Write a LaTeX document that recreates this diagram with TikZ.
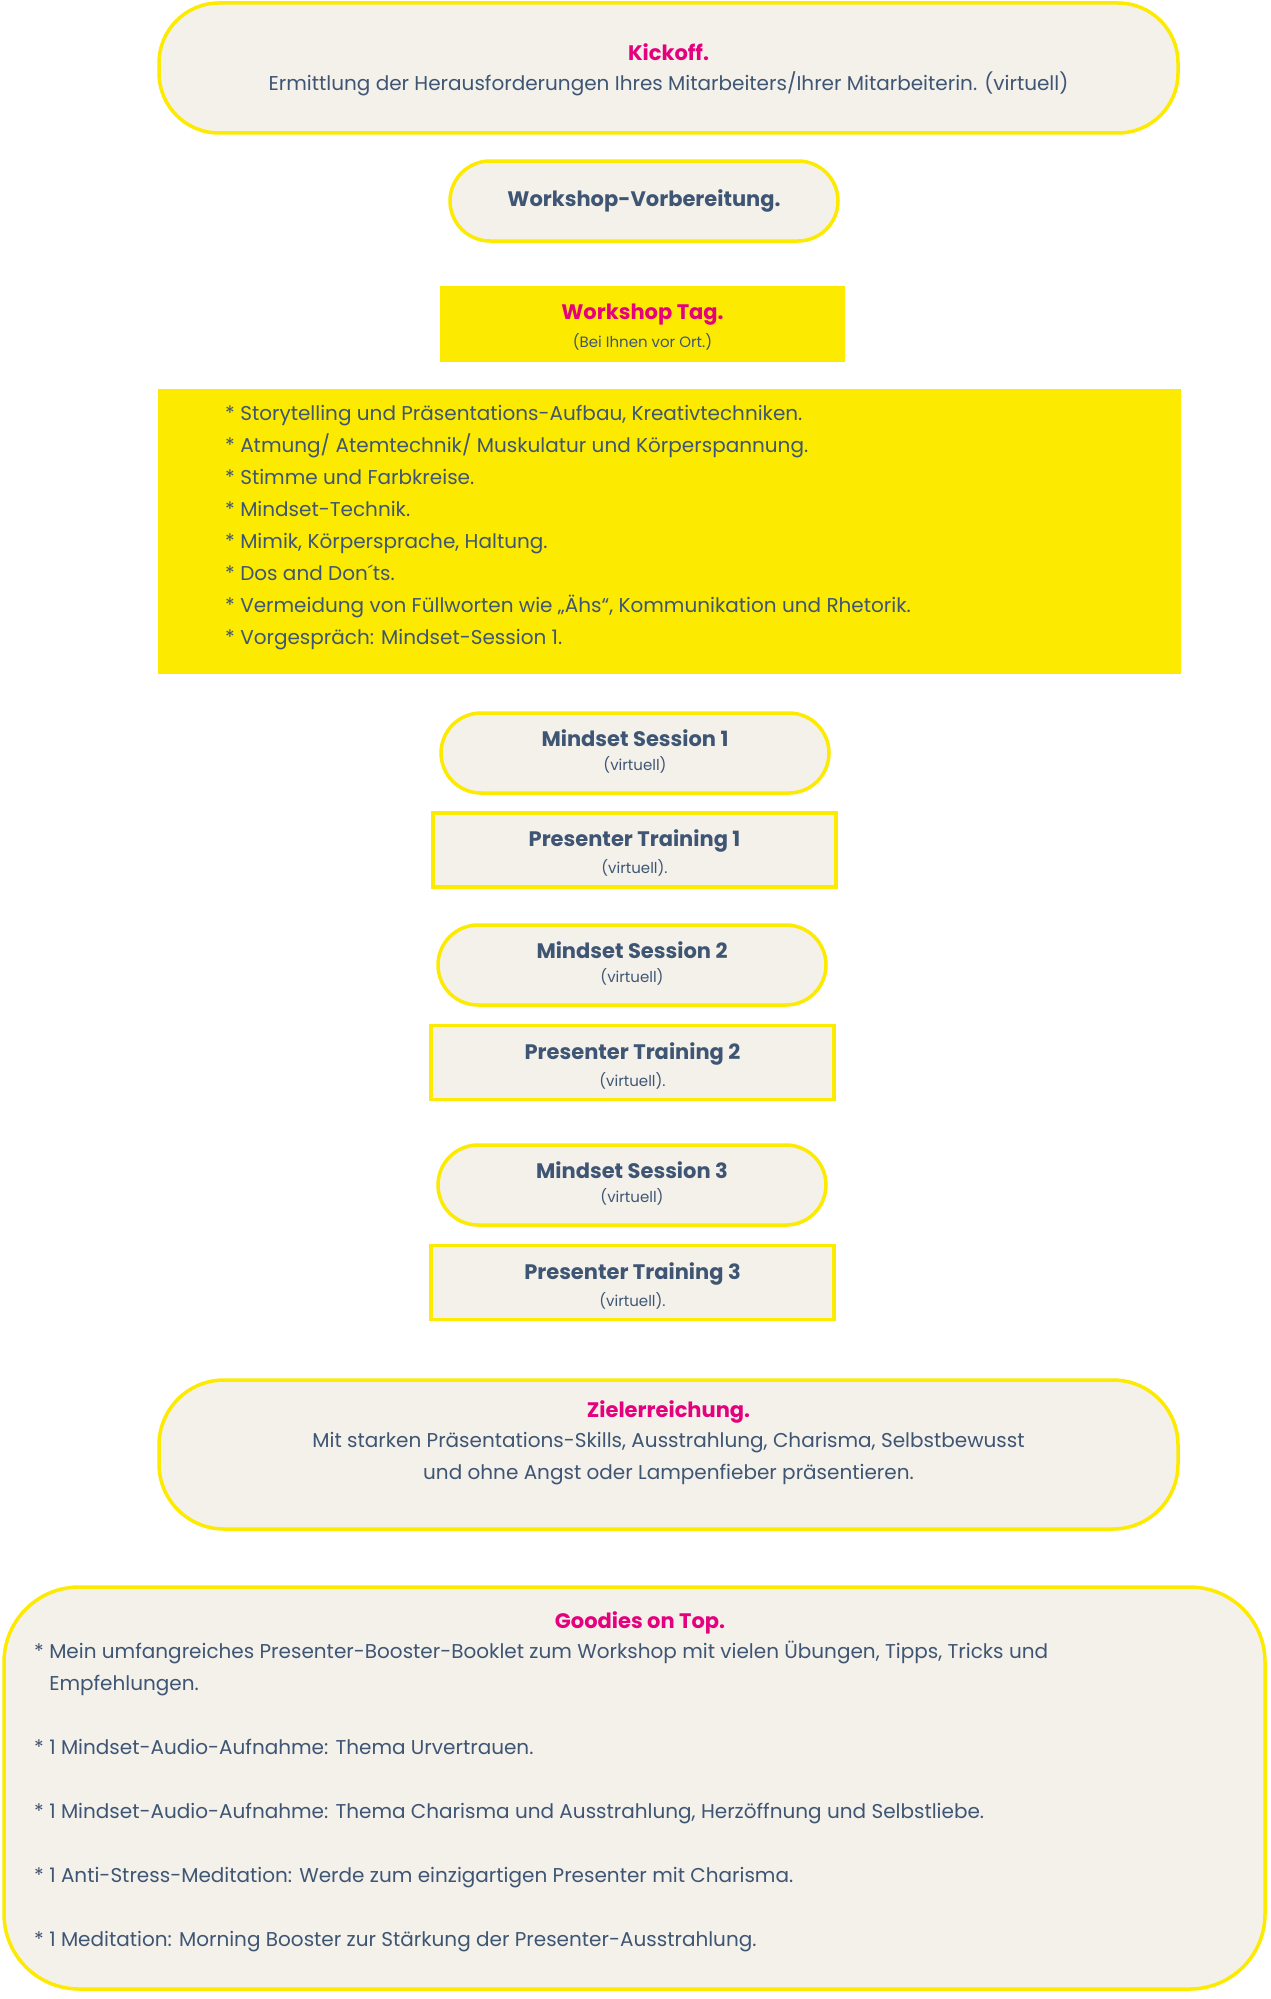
\documentclass[tikz,border=0pt]{standalone}
\usepackage{fontspec}
\setmainfont{Poppins}
\definecolor{ylw}{HTML}{FCEA00}
\definecolor{bg}{HTML}{F4F0EA}
\definecolor{txt}{HTML}{3E5674}
\definecolor{pink}{HTML}{E5007D}
\begin{document}
\begin{tikzpicture}[x=1pt,y=-1pt,
  pill/.style={draw=ylw,line width=3.5pt,fill=bg,text=txt,align=center,inner sep=0pt},
  frame/.style={draw=ylw,line width=3.5pt,fill=bg,text=txt,align=center,inner sep=0pt},
  solid/.style={fill=ylw,text=txt,align=center,inner sep=0pt},
  ttl/.style={font=\fontsize{21}{25}\selectfont\bfseries},
  body/.style={font=\fontsize{20}{32}\selectfont},
  small/.style={font=\fontsize{15}{18}\selectfont}]
\useasboundingbox (0,0) rectangle (1271,1999);
% boxes
\node[pill,rounded corners=60pt,minimum width=1019pt,minimum height=130pt] (kick) at (668.5,68) {};
\node[text=pink,ttl] (kickT) at (668.5,52) {Kickoff.};
\node[text=txt,body] (kickB) at (668.5,84) {Ermittlung der Herausforderungen Ihres Mitarbeiters/Ihrer Mitarbeiterin. (virtuell)};
\node[pill,rounded corners=40pt,minimum width=388pt,minimum height=80pt,ttl] (prep) at (644,201) {Workshop-Vorbereitung.};
\node[solid,minimum width=405pt,minimum height=76pt] (tag) at (642.5,324) {};
\node[text=pink,ttl] (tagT) at (642.5,315) {Workshop Tag.};
\node[text=txt,small] (tagS) at (642.5,342) {(Bei Ihnen vor Ort.)};
\node[solid,minimum width=1023pt,minimum height=285pt] (list) at (669.5,531.5) {};
\node[text=txt,body,align=left,anchor=north west,inner sep=0pt] (listT) at (225,405) {%
* Storytelling und Präsentations-Aufbau, Kreativtechniken.\\
* Atmung/ Atemtechnik/ Muskulatur und Körperspannung.\\
* Stimme und Farbkreise.\\
* Mindset-Technik.\\
* Mimik, Körpersprache, Haltung.\\
* Dos and Don´ts.\\
* Vermeidung von Füllworten wie „Ähs“, Kommunikation und Rhetorik.\\
* Vorgespräch: Mindset-Session 1.};
% sessions
\foreach \n/\y/\tx/\x in {1/753/Mindset Session 1/635, 2/965/Mindset Session 2/632, 3/1185/Mindset Session 3/632}{
  \node[pill,rounded corners=40pt,minimum width=388pt,minimum height=80pt] (ms\n) at (\x,\y) {};
  \node[text=txt,ttl] (ms\n t) at (\x,\y-15) {\tx};
  \node[text=txt,small] (ms\n s) at (\x,\y+12) {(virtuell)};
}
\foreach \n/\y/\tx/\x in {1/850/Presenter Training 1/634.5, 2/1062.5/Presenter Training 2/632.5, 3/1282.5/Presenter Training 3/632.5}{
  \node[frame,minimum width=403pt,minimum height=74pt] (pt\n) at (\x,\y) {};
  \node[text=txt,ttl] (pt\n t) at (\x,\y-9) {\tx};
  \node[text=txt,small] (pt\n s) at (\x,\y+18) {(virtuell).};
}
\node[pill,rounded corners=65pt,minimum width=1019pt,minimum height=149pt] (ziel) at (668.5,1454.5) {};
\node[text=pink,ttl] (zielT) at (668.5,1412) {Zielerreichung.};
\node[text=txt,body,align=center] (zielB) at (668.5,1459) {Mit starken Präsentations-Skills, Ausstrahlung, Charisma, Selbstbewusst\\und ohne Angst oder Lampenfieber präsentieren.};
\node[pill,rounded corners=75pt,minimum width=1261pt,minimum height=402pt] (good) at (634.5,1788) {};
\node[text=pink,ttl] (goodT) at (640,1623) {Goodies on Top.};
\node[text=txt,body,align=left,anchor=north west,inner sep=0pt] (goodB) at (34,1641) {%
* Mein umfangreiches Presenter-Booster-Booklet zum Workshop mit vielen Übungen, Tipps, Tricks und\\
\hphantom{* }Empfehlungen.\\[32pt]
* 1 Mindset-Audio-Aufnahme: Thema Urvertrauen.\\[32pt]
* 1 Mindset-Audio-Aufnahme: Thema Charisma und Ausstrahlung, Herzöffnung und Selbstliebe.\\[32pt]
* 1 Anti-Stress-Meditation: Werde zum einzigartigen Presenter mit Charisma.\\[32pt]
* 1 Meditation: Morning Booster zur Stärkung der Presenter-Ausstrahlung.};
\end{tikzpicture}
\end{document}
